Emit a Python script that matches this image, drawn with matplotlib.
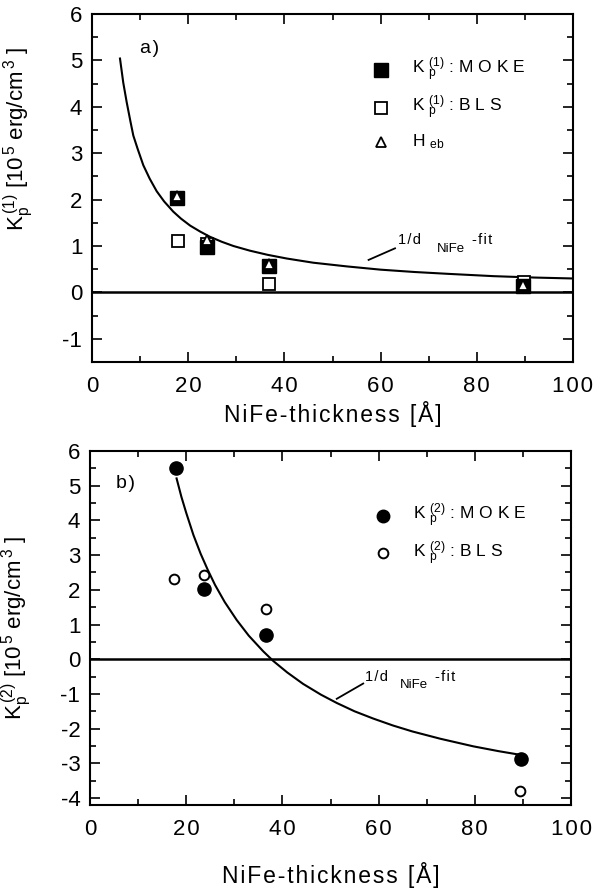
import matplotlib
matplotlib.use("Agg")
import matplotlib.pyplot as plt
from matplotlib.ticker import MultipleLocator, FixedLocator, FixedFormatter

plt.rcParams['font.family'] = ['Liberation Sans', 'DejaVu Sans']
plt.rcParams['mathtext.fontset'] = 'custom'
plt.rcParams['mathtext.rm'] = 'Liberation Sans'
plt.rcParams['mathtext.it'] = 'Liberation Sans:italic'
plt.rcParams['mathtext.bf'] = 'Liberation Sans:bold'

# ---------------- data: panel a) ----------------
a_moke_x = [17.6, 23.9, 36.8, 89.6]
a_moke_y = [2.04, 0.98, 0.57, 0.14]
a_bls_x = [17.8, 23.9, 36.8, 89.9]
a_bls_y = [1.11, 1.05, 0.18, 0.23]
a_heb_x = [17.6, 23.9, 36.8, 89.6]
a_heb_y = [2.08, 1.14, 0.62, 0.17]
a_fit_x = [5.82, 6.5, 7.21, 8.0, 8.59, 9.5, 10.67, 12.0, 13.45, 15.0, 16.9, 18.5,
           20.4, 22.5, 24.5, 27.0, 29.4, 32.8, 36.5, 40.5, 46.0, 53.0, 60.0,
           67.0, 74.0, 83.5, 92.0, 100.0]
a_fit_y = [5.04, 4.52, 4.10, 3.68, 3.38, 3.09, 2.74, 2.45, 2.18, 1.96, 1.74, 1.59,
           1.44, 1.31, 1.20, 1.09, 1.00, 0.90, 0.81, 0.73, 0.64, 0.56, 0.49,
           0.44, 0.40, 0.35, 0.32, 0.30]

# ---------------- data: panel b) ----------------
b_moke_x = [17.8, 23.6, 36.5, 89.7]
b_moke_y = [5.51, 2.02, 0.71, -2.87]
b_bls_x = [17.5, 23.6, 36.5, 89.4]
b_bls_y = [2.31, 2.43, 1.44, -3.81]
b_fit_x = [18.0, 19.0, 20.0, 21.5, 23.0, 24.5, 26.0, 28.0, 30.5, 33.0, 36.0, 38.1,
           41.0, 44.3, 48.0, 51.3, 55.0, 58.9, 63.0, 67.0, 72.8, 79.7, 85.0, 89.7]
b_fit_y = [5.21, 4.68, 4.22, 3.58, 3.04, 2.57, 2.14, 1.65, 1.13, 0.68, 0.23, -0.05,
           -0.38, -0.71, -1.02, -1.26, -1.50, -1.71, -1.91, -2.08, -2.29, -2.51,
           -2.65, -2.76]

x_ticks = [0, 20, 40, 60, 80, 100]
a_yticks = [-1, 0, 1, 2, 3, 4, 5, 6]
b_yticks = [-4, -3, -2, -1, 0, 1, 2, 3, 4, 5, 6]

HS = '\u200a'
def sp(s, sep=HS):
    return sep.join(s)

fig = plt.figure(figsize=(6.09, 8.88), dpi=100)
ax1 = fig.add_axes([92/609, 1-362/888, 481/609, 348/888])
ax2 = fig.add_axes([90/609, 1-805/888, 481/609, 354/888])

def style(ax, yticks, ylim):
    ax.set_xlim(0, 100)
    ax.set_ylim(*ylim)
    ax.xaxis.set_major_locator(FixedLocator(x_ticks))
    ax.xaxis.set_major_formatter(FixedFormatter([sp(str(t)) for t in x_ticks]))
    ax.xaxis.set_minor_locator(MultipleLocator(10))
    ax.yaxis.set_major_locator(FixedLocator(yticks))
    ax.yaxis.set_major_formatter(FixedFormatter([str(t) for t in yticks]))
    ax.yaxis.set_minor_locator(MultipleLocator(0.5))
    ax.tick_params(which='both', direction='in', top=True, right=True, width=1.2, colors='black')
    ax.tick_params(which='major', length=7)
    ax.tick_params(which='minor', length=4)
    ax.tick_params(axis='x', which='major', labelsize=16, pad=10)
    ax.tick_params(axis='y', which='major', labelsize=16, pad=7)
    for s in ax.spines.values():
        s.set_linewidth(1.5)
    ax.axhline(0, color='black', lw=1.8, zorder=2)

style(ax1, a_yticks, (-1.5, 6))
style(ax2, b_yticks, (-4.2, 6))

LFS = 12.5
# panel a
ax1.plot(a_fit_x, a_fit_y, color='black', lw=1.5, zorder=2)
ax1.plot(a_bls_x, a_bls_y, ls='none', marker='s', ms=8.5, mfc='white', mec='black', mew=1.3, zorder=3)
ax1.plot(a_moke_x, a_moke_y, ls='none', marker='s', ms=10.5, mfc='black', mec='black', zorder=4)
ax1.plot(a_heb_x, a_heb_y, ls='none', marker='^', ms=7, mfc='white', mec='black', mew=1.3, zorder=5)

# legend a
ax1.plot([60.1], [4.80], ls='none', marker='s', ms=10.5, mfc='black', mec='black')
ax1.plot([60.1], [3.98], ls='none', marker='s', ms=8.5, mfc='white', mec='black', mew=1.3)
ax1.plot([60.1], [3.24], ls='none', marker='^', ms=7, mfc='white', mec='black', mew=1.3)
ax1.text(66.5, 4.80, r"K$\ {}_{\mathrm{p}}^{(1)}$ : " + sp("MOKE", ' '), fontsize=LFS, va='center', ha='left')
ax1.text(66.5, 3.98, r"K$\ {}_{\mathrm{p}}^{(1)}$ : " + sp("BLS", ' '), fontsize=LFS, va='center', ha='left')
ax1.text(66.5, 3.24, r"H$\ {}_{\mathrm{eb}}$", fontsize=LFS, va='center', ha='left')

ax1.text(10.0, 5.25, "a" + HS + ")", fontsize=14, va='center', ha='left')

ax1.plot([57.5, 63.0], [0.70, 0.95], color='black', lw=1.3)
ax1.text(63.7, 1.13, sp("1/d"), fontsize=10.5, va='center', ha='left')
ax1.text(71.6, 0.93, "NiFe", fontsize=9.5, va='center', ha='left')
ax1.text(79.0, 1.14, sp("-fit"), fontsize=10.5, va='center', ha='left')

ax1.set_xlabel(sp("NiFe-thickness [Å]"), fontsize=16.5, labelpad=3)
ax1.set_ylabel(r"K$_{\mathrm{p}}^{\,(1)}$ [10$^{\,5}$ erg/cm$^{\,3}$ ]", fontsize=16)
ax1.yaxis.set_label_coords(-0.118, 0.64)

# panel b
ax2.plot(b_fit_x, b_fit_y, color='black', lw=1.5, zorder=2)
ax2.plot(b_bls_x, b_bls_y, ls='none', marker='o', ms=7, mfc='white', mec='black', mew=1.4, zorder=3)
ax2.plot(b_moke_x, b_moke_y, ls='none', marker='o', ms=9.5, mfc='black', mec='black', zorder=4)

ax2.plot([61.0], [4.13], ls='none', marker='o', ms=9, mfc='black', mec='black')
ax2.plot([61.0], [3.05], ls='none', marker='o', ms=7, mfc='white', mec='black', mew=1.4)
ax2.text(67.2, 4.13, r"K$\ {}_{\mathrm{p}}^{(2)}$ : " + sp("MOKE", ' '), fontsize=LFS, va='center', ha='left')
ax2.text(67.2, 3.05, r"K$\ {}_{\mathrm{p}}^{(2)}$ : " + sp("BLS", ' '), fontsize=LFS, va='center', ha='left')

ax2.text(5.4, 5.07, "b" + HS + ")", fontsize=14, va='center', ha='left')

ax2.plot([51.3, 56.8], [-1.14, -0.70], color='black', lw=1.3)
ax2.text(57.2, -0.51, sp("1/d"), fontsize=10.5, va='center', ha='left')
ax2.text(64.4, -0.75, "NiFe", fontsize=9.5, va='center', ha='left')
ax2.text(71.7, -0.51, sp("-fit"), fontsize=10.5, va='center', ha='left')

ax2.set_xlabel(sp("NiFe-thickness [Å]"), fontsize=16.5, labelpad=16)
ax2.set_ylabel(r"K$_{\mathrm{p}}^{\,(2)}$ [10$^{\,5}$ erg/cm$^{\,3}$ ]", fontsize=16)
ax2.yaxis.set_label_coords(-0.118, 0.5)

fig.savefig("out.png", dpi=100)
